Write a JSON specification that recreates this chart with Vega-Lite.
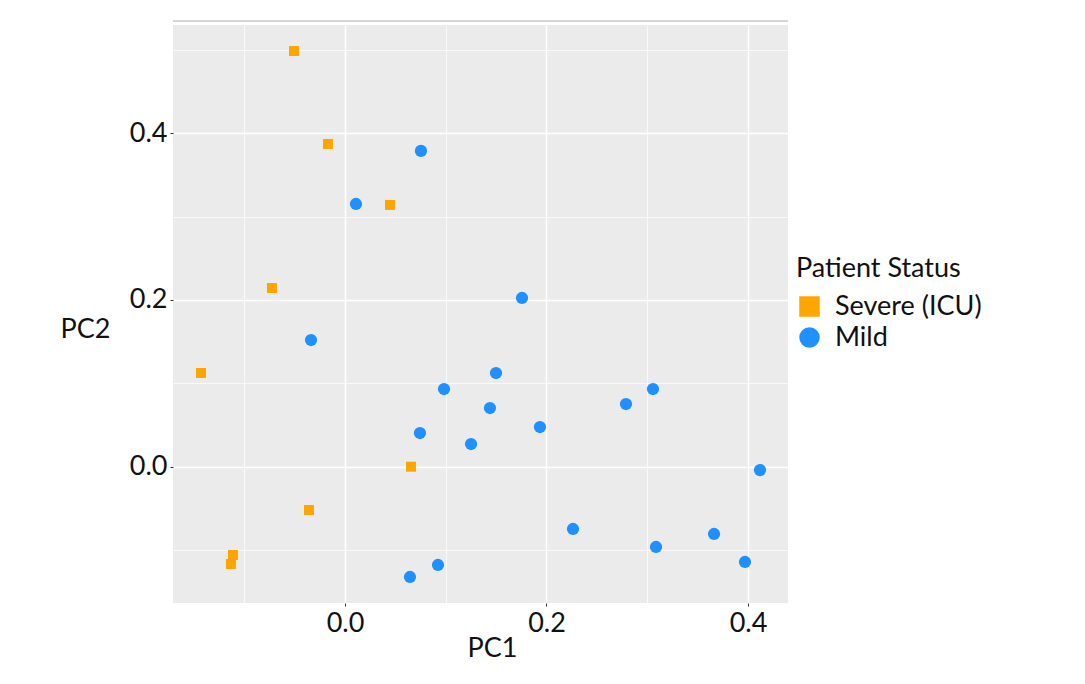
{
  "$schema": "https://vega.github.io/schema/vega-lite/v6.json",
  "width": 615,
  "height": 578,
  "autosize": "none",
  "padding": {"left": 173, "top": 25, "right": 297, "bottom": 81},
  "background": "white",
  "data": {
    "values": [
      {"PC1": -0.0506, "PC2": 0.4987, "status": "Severe (ICU)"},
      {"PC1": -0.0169, "PC2": 0.3872, "status": "Severe (ICU)"},
      {"PC1": 0.0447, "PC2": 0.3140, "status": "Severe (ICU)"},
      {"PC1": -0.0725, "PC2": 0.2144, "status": "Severe (ICU)"},
      {"PC1": -0.1429, "PC2": 0.1124, "status": "Severe (ICU)"},
      {"PC1": 0.0655, "PC2": 0.0000, "status": "Severe (ICU)"},
      {"PC1": -0.0357, "PC2": -0.0519, "status": "Severe (ICU)"},
      {"PC1": -0.1112, "PC2": -0.1059, "status": "Severe (ICU)"},
      {"PC1": -0.1132, "PC2": -0.1167, "status": "Severe (ICU)"},
      {"PC1": 0.0754, "PC2": 0.3788, "status": "Mild"},
      {"PC1": 0.0109, "PC2": 0.3152, "status": "Mild"},
      {"PC1": 0.1757, "PC2": 0.2024, "status": "Mild"},
      {"PC1": -0.0337, "PC2": 0.1520, "status": "Mild"},
      {"PC1": 0.0983, "PC2": 0.0932, "status": "Mild"},
      {"PC1": 0.1499, "PC2": 0.1124, "status": "Mild"},
      {"PC1": 0.1439, "PC2": 0.0704, "status": "Mild"},
      {"PC1": 0.0744, "PC2": 0.0404, "status": "Mild"},
      {"PC1": 0.1251, "PC2": 0.0272, "status": "Mild"},
      {"PC1": 0.1935, "PC2": 0.0476, "status": "Mild"},
      {"PC1": 0.2789, "PC2": 0.0752, "status": "Mild"},
      {"PC1": 0.3057, "PC2": 0.0932, "status": "Mild"},
      {"PC1": 0.4119, "PC2": -0.0040, "status": "Mild"},
      {"PC1": 0.2263, "PC2": -0.0747, "status": "Mild"},
      {"PC1": 0.3087, "PC2": -0.0963, "status": "Mild"},
      {"PC1": 0.3663, "PC2": -0.0807, "status": "Mild"},
      {"PC1": 0.3970, "PC2": -0.1143, "status": "Mild"},
      {"PC1": 0.0645, "PC2": -0.1323, "status": "Mild"},
      {"PC1": 0.0923, "PC2": -0.1179, "status": "Mild"}
    ]
  },
  "encoding": {
    "x": {
      "field": "PC1",
      "type": "quantitative",
      "scale": {"domain": [-0.1707, 0.4397], "nice": false, "zero": false},
      "axis": {
        "title": "PC1",
        "values": [-0.1, 0, 0.1, 0.2, 0.3, 0.4],
        "labelExpr": "round(datum.value * 10) % 2 != 0 ? '' : format(datum.value, '.1f')",
        "gridWidth": {"condition": {"test": "round(datum.value * 10) % 2 != 0", "value": 0.7}, "value": 1.5},
        "tickOpacity": {"condition": {"test": "round(datum.value * 10) % 2 != 0", "value": 0}, "value": 1},
        "labelBaseline": "top",
        "labelPadding": 4,
        "titleX": 319,
        "titleY": 45,
        "titleAlign": "center",
        "titleBaseline": "middle"
      }
    },
    "y": {
      "field": "PC2",
      "type": "quantitative",
      "scale": {"domain": [-0.1635, 0.5299], "nice": false, "zero": false},
      "axis": {
        "title": "PC2",
        "values": [-0.1, 0, 0.1, 0.2, 0.3, 0.4, 0.5],
        "labelExpr": "round(datum.value * 10) % 2 != 0 ? '' : format(datum.value, '.1f')",
        "gridWidth": {"condition": {"test": "round(datum.value * 10) % 2 != 0", "value": 0.7}, "value": 1.5},
        "tickOpacity": {"condition": {"test": "round(datum.value * 10) % 2 != 0", "value": 0}, "value": 1},
        "labelPadding": 3,
        "titleAngle": 0,
        "titleX": -88,
        "titleY": 304,
        "titleAlign": "center",
        "titleBaseline": "middle"
      }
    },
    "color": {
      "field": "status",
      "type": "nominal",
      "scale": {"domain": ["Severe (ICU)", "Mild"], "range": ["#FFA500", "#1E90FF"]},
      "legend": {
        "title": "Patient Status",
        "orient": "none",
        "legendX": 623,
        "legendY": 231,
        "symbolSize": 420,
        "symbolOpacity": 1,
        "labelOffset": 12,
        "rowPadding": 3,
        "titlePadding": 10
      }
    },
    "shape": {
      "field": "status",
      "type": "nominal",
      "scale": {"domain": ["Severe (ICU)", "Mild"], "range": ["square", "circle"]}
    }
  },
  "layer": [
    {
      "mark": {"type": "rule", "color": "#D6D6D6", "strokeWidth": 1.5},
      "encoding": {
        "x": null,
        "color": null,
        "shape": null,
        "y": {"datum": 0.535, "type": "quantitative"}
      }
    },
    {
      "transform": [{"filter": "datum.status == 'Severe (ICU)'"}],
      "mark": {"type": "point", "filled": true, "opacity": 1, "size": 100}
    },
    {
      "transform": [{"filter": "datum.status == 'Mild'"}],
      "mark": {"type": "point", "filled": true, "opacity": 1, "size": 150}
    }
  ],
  "config": {
    "view": {"fill": "#EBEBEB", "stroke": null},
    "font": "Lato",
    "axis": {
      "domain": false,
      "grid": true,
      "gridColor": "#FFFFFF",
      "tickColor": "#333333",
      "tickSize": 3,
      "labelFont": "Lato",
      "labelFontSize": 27,
      "labelColor": "#111111",
      "titleFont": "Lato",
      "titleFontSize": 27,
      "titleFontWeight": "normal",
      "titleColor": "#111111"
    },
    "legend": {
      "titleFont": "Lato",
      "titleFontSize": 27,
      "titleFontWeight": "normal",
      "titleColor": "#111111",
      "labelFont": "Lato",
      "labelFontSize": 27,
      "labelColor": "#111111"
    }
  }
}
